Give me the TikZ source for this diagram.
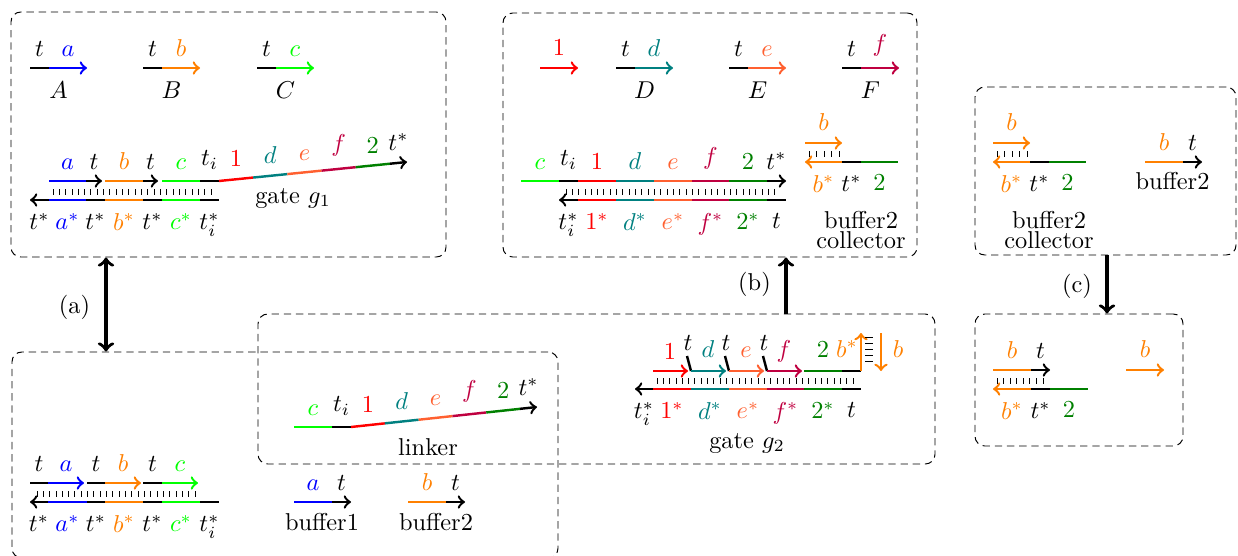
\documentclass[tikz,border=0pt]{standalone}
\usepackage{amsmath}
\usetikzlibrary{calc,fit}
\definecolor{ecol}{RGB}{255,96,48}
\colorlet{dgreen}{green!50!black}
\tikzset{
 strand/.style={line width=1pt},
 hyb/.style={line width=0.4pt},
 dbox/.style={draw,dash pattern=on 3pt off 2pt,rounded corners=4pt,inner sep=0pt},
 lup/.style={anchor=south},
 ldn/.style={anchor=north},
 lbase/.style={anchor=base},
 reaction/.style={line width=1.4pt}
}
\newcommand{\hybr}[5]{\foreach \k in {0,...,#3} \draw[hyb] ({#1+\k*#2},#4) -- ({#1+\k*#2},#5);}

\begin{document}
\begin{tikzpicture}[x=0.41pt,y=-0.41pt]
\useasboundingbox (0,0) rectangle (1238,556);
\node[dbox,fit={(11,12) (446,257)}] (boxg1) {};
\node[dbox,fit={(503,13) (917,257)}] (boxg2) {};
\node[dbox,fit={(975,87) (1236,255)}] (boxc1) {};
\node[dbox,fit={(975,314) (1183,446)}] (boxc2) {};
\node[dbox,fit={(12,352) (558,558)}] (boxin) {};
\node[dbox,fit={(258,314) (935,464)}] (boxlk) {};
% single strands A--F
\foreach \xo/\c/\s/\S in {30/blue/a/A,143/orange/b/B,257/green/c/C,616/teal/d/D,729/ecol/e/E,842/purple/f/F}{
 \draw[strand] (\xo,68) -- ++(19,0);
 \draw[strand,\c,->] (\xo+19,68) -- ++(38,0);
 \node[lup] (in\S t) at (\xo+9.5,65) {$t$};
 \node[lup,\c] (in\S d) at (\xo+38,65) {$\s$};
 \node[ldn] (in\S) at (\xo+28.5,73) {$\S$};
}
\draw[strand,red,->] (540,68) -- (578,68) node[midway,above=1.2pt] (inone) {$1$};
% gate g1
\foreach \xa/\xb/\c/\tip in {49/86/blue/-,86/102/black/->,105/143/orange/-,143/158/black/->,162/200/green/-,200/219/black/-}
 \draw[strand,\c,\tip] (\xa,181) -- (\xb,181);
\foreach \x/\c/\s [count=\i] in {67.5/blue/a,94/black/t,124/orange/b,150.5/black/t,181/green/c,209.5/black/t_i}
 \node[lup,\c] (g1u\i) at (\x,178) {$\s$};
\coordinate (g1s) at (219,181);
\coordinate (g1e) at (407,162);
\foreach \a/\b/\c/\s [count=\i] in {0/1/red/1,1/2/teal/d,2/3/ecol/e,3/4/purple/f,4/5/dgreen/2}
 \draw[strand,\c] ($(g1s)!\a/5.5!(g1e)$) -- ($(g1s)!\b/5.5!(g1e)$) node[midway,above=1.2pt] (g1x\i) {$\s$};
\draw[strand,->] ($(g1s)!5/5.5!(g1e)$) -- (g1e) node[midway,above=1.2pt] (g1x6) {$t^*$};
\foreach \xa/\xb/\c/\tip in {30/49/black/<-,49/86/blue/-,86/105/black/-,105/143/orange/-,143/162/black/-,162/200/green/-,200/219/black/-}
 \draw[strand,\c,\tip] (\xa,200) -- (\xb,200);
\foreach \x/\c/\s [count=\i] in {39.5/black/t^*,67.5/blue/a^*,95.5/black/t^*,124/orange/b^*,152.5/black/t^*,181/green/c^*,209.5/black/t_i^*}
 \node[ldn,\c] (g1l\i) at (\x,204.5) {$\s$};
\hybr{53}{6.33}{25}{189}{195}
\node[lbase] (g1name) at (293,203) {gate $g_1$};
% linker bound to gate g1 complement
\foreach \xa/\xb/\c/\tip in {521/559/green/-,559/578/black/-,578/616/red/-,616/654/teal/-,654/692/ecol/-,692/729/purple/-,729/767/dgreen/-,767/786/black/->}
 \draw[strand,\c,\tip] (\xa,181) -- (\xb,181);
\foreach \x/\c/\s [count=\i] in {540/green/c,568.5/black/t_i,597/red/1,635/teal/d,673/ecol/e,710.5/purple/f,748/dgreen/2,776.5/black/t^*}
 \node[lup,\c] (dxu\i) at (\x,178) {$\s$};
\foreach \xa/\xb/\c/\tip in {559/578/black/<-,578/616/red/-,616/654/teal/-,654/692/ecol/-,692/729/purple/-,729/767/dgreen/-,767/786/black/-}
 \draw[strand,\c,\tip] (\xa,200) -- (\xb,200);
\foreach \x/\c/\s [count=\i] in {568.5/black/t_i^*,597/red/1^*,635/teal/d^*,673/ecol/e^*,710.5/purple/f^*,748/dgreen/2^*,776.5/black/t}
 \node[ldn,\c] (dxl\i) at (\x,204.5) {$\s$};
\hybr{566}{6.33}{33}{189}{195}
% buffer2 collectors
\foreach \xo/\nm in {805/cla,993/clb}{
 \draw[strand,orange,->] (\xo,143) -- ++(37,0) node[midway,above=1.2pt] (\nm b) {$b$};
 \draw[strand,orange,<-] (\xo,162) -- ++(37,0);
 \draw[strand] (\xo+37,162) -- ++(19,0);
 \draw[strand,dgreen] (\xo+56,162) -- ++(37,0);
 \node[ldn,orange] (\nm l1) at (\xo+18.5,166.5) {$b^*$};
 \node[ldn] (\nm l2) at (\xo+46.5,166.5) {$t^*$};
 \node[ldn,dgreen] (\nm l3) at (\xo+74.5,166.5) {$2$};
 \hybr{\xo+4}{7.5}{4}{151}{157}
 \node[align=center] (\nm name) at (\xo+56,230) {buffer2\\[-3.5pt]collector};
}
\draw[strand,orange] (1145,162) -- (1183,162);
\draw[strand,->] (1183,162) -- (1202,162);
\node[lup,orange] (bfcb) at (1164,159) {$b$};
\node[lup] (bfct) at (1192.5,159) {$t$};
\node[lbase] (bfcname) at (1172.5,189) {buffer2};
% after collection
\draw[strand,orange] (993,370) -- (1031,370);
\draw[strand,->] (1031,370) -- (1050,370);
\node[lup,orange] (cu1) at (1012,367) {$b$};
\node[lup] (cu2) at (1040.5,367) {$t$};
\draw[strand,orange,<-] (993,389) -- (1031,389);
\draw[strand] (1031,389) -- (1050,389);
\draw[strand,dgreen] (1050,389) -- (1088,389);
\node[ldn,orange] (cl1) at (1012,393.5) {$b^*$};
\node[ldn] (cl2) at (1040.5,393.5) {$t^*$};
\node[ldn,dgreen] (cl3) at (1069,393.5) {$2$};
\hybr{997}{6.57}{7}{378}{384}
\draw[strand,orange,->] (1126,370) -- (1164,370) node[midway,above=1.2pt] (cfree) {$b$};
% linker
\draw[strand,green] (294,427) -- (332,427);
\draw[strand] (332,427) -- (351,427);
\node[lup,green] (lku1) at (313,424) {$c$};
\node[lup] (lku2) at (341.5,424) {$t_i$};
\coordinate (lks) at (351,427);
\coordinate (lke) at (537,407);
\foreach \a/\b/\c/\s [count=\i] in {0/1/red/1,1/2/teal/d,2/3/ecol/e,3/4/purple/f,4/5/dgreen/2}
 \draw[strand,\c] ($(lks)!\a/5.5!(lke)$) -- ($(lks)!\b/5.5!(lke)$) node[midway,above=1.2pt] (lkx\i) {$\s$};
\draw[strand,->] ($(lks)!5/5.5!(lke)$) -- (lke) node[midway,above=1.2pt] (lkx6) {$t^*$};
\node[lbase] (lkname) at (428,455) {linker};
% gate g2
\foreach \xa/\xb/\c/\tip in {635/653/black/<-,653/691/red/-,691/729/teal/-,729/767/ecol/-,767/804/purple/-,804/842/dgreen/-,842/861/black/-}
 \draw[strand,\c,\tip] (\xa,389) -- (\xb,389);
\foreach \x/\c/\s [count=\i] in {644/black/t_i^*,672/red/1^*,710/teal/d^*,748/ecol/e^*,785.5/purple/f^*,823/dgreen/2^*,851.5/black/t}
 \node[ldn,\c] (g2l\i) at (\x,393.5) {$\s$};
\draw[strand,red,->] (653,371) -- (688,371);
\node[lup,red] (g2one) at (670,368) {$1$};
\foreach \xo/\c/\s [count=\i] in {691/teal/d,729/ecol/e,767/purple/f}{
 \draw[strand] (\xo-4,356) -- (\xo,371);
 \draw[strand,\c,->] (\xo,371) -- ++(35,0);
 \node[lbase] (g2t\i) at (\xo-3,350) {$t$};
 \node[lbase,\c] (g2d\i) at (\xo+17,357) {$\s$};
}
\draw[strand,dgreen] (804,371) -- (842,371);
\draw[strand] (842,371) -- (861,371);
\draw[strand,orange,->] (861,371) -- (861,333);
\foreach \k in {0,...,4} \draw[hyb] (865,{337+\k*6}) -- (873,{337+\k*6});
\draw[strand,orange,->] (881,333) -- (881,371);
\node[lbase,dgreen] (g2two) at (823,357) {$2$};
\node[lbase,orange] (g2bs) at (847,357) {$b^*$};
\node[lbase,orange] (g2b) at (898,357) {$b$};
\hybr{657}{6.33}{31}{378}{384}
\node[lbase] (g2name) at (747,448) {gate $g_2$};
% inputs bound to gate g1
\foreach \xa/\xb/\c/\tip in {30/48/black/-,48/84/blue/->,87/105/black/-,105/141/orange/->,143/162/black/-,162/198/green/->}
 \draw[strand,\c,\tip] (\xa,483) -- (\xb,483);
\foreach \x/\c/\s [count=\i] in {39/black/t,66/blue/a,96/black/t,123/orange/b,152.5/black/t,180/green/c}
 \node[lup,\c] (inu\i) at (\x,480) {$\s$};
\foreach \xa/\xb/\c/\tip in {30/48/black/<-,48/87/blue/-,87/105/black/-,105/143/orange/-,143/162/black/-,162/200/green/-,200/219/black/-}
 \draw[strand,\c,\tip] (\xa,502) -- (\xb,502);
\foreach \x/\c/\s [count=\i] in {39/black/t^*,67.5/blue/a^*,96/black/t^*,124/orange/b^*,152.5/black/t^*,181/green/c^*,209.5/black/t_i^*}
 \node[ldn,\c] (inl\i) at (\x,506.5) {$\s$};
\hybr{37}{6.33}{25}{491}{497}
% buffers
\draw[strand,blue] (294,502) -- (332,502);
\draw[strand,->] (332,502) -- (351,502);
\node[lup,blue] (bf1a) at (313,499) {$a$};
\node[lup] (bf1t) at (341.5,499) {$t$};
\node[lbase] (bf1name) at (322,530) {buffer1};
\draw[strand,orange] (408,502) -- (446,502);
\draw[strand,->] (446,502) -- (465,502);
\node[lup,orange] (bf2b) at (427,499) {$b$};
\node[lup] (bf2t) at (455.5,499) {$t$};
\node[lbase] (bf2name) at (436,530) {buffer2};
% reactions
\coordinate (pa) at (106,0);
\coordinate (pb) at (786,0);
\coordinate (pc) at (1107,0);
\draw[reaction,<->] (pa |- boxg1.south) -- (pa |- boxin.north);
\draw[reaction,->] (pb |- boxlk.north) -- (pb |- boxg2.south);
\draw[reaction,->] (pc |- boxc1.south) -- (pc |- boxc2.north);
\node[lbase] (ra) at (74.5,313) {(a)};
\node[lbase] (rb) at (754.5,290) {(b)};
\node[lbase] (rc) at (1077,292) {(c)};
\end{tikzpicture}
\end{document}
